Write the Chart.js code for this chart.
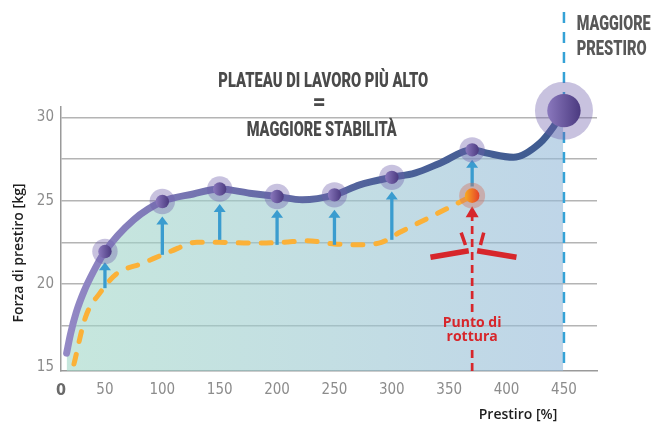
<!DOCTYPE html>
<html>
<head>
<meta charset="utf-8">
<script src="https://cdn.jsdelivr.net/npm/chart.js@4.4.1/dist/chart.umd.min.js"></script>
<style>
body{margin:0;background:#fff;}
#wrap{width:654px;height:427px;}
</style>
</head>
<body>
<div id="wrap"><canvas id="grafico" width="654" height="427"></canvas></div>
<script>
// curva viola: prestiro [%] / forza [kg]
const curvaX = [16.6, 20, 25, 32, 40, 50, 75, 100, 127, 150, 176, 200, 222, 250, 272, 300, 320, 342, 370, 383, 406, 429, 441, 449.4];
const curvaY = [15.85, 17.0, 18.3, 19.6, 20.75, 21.95, 23.85, 24.95, 25.4, 25.7, 25.45, 25.25, 25.05, 25.35, 25.95, 26.4, 26.65, 27.25, 28.05, 27.85, 27.6, 28.45, 29.45, 30.4];

// curva arancione tratteggiata (fino al punto di rottura)
const rotturaX = [23, 33, 46, 60, 83, 107, 130, 150, 180, 205, 226, 250, 274, 291, 307, 333, 356, 370];
const rotturaY = [15.2, 18.0, 19.5, 20.6, 21.25, 21.95, 22.5, 22.5, 22.45, 22.5, 22.6, 22.4, 22.35, 22.5, 23.1, 24.0, 24.8, 25.3];

// punti evidenziati sulla curva viola
const puntiX = [50, 100, 150, 200, 250, 300, 370, 450];
const puntiY = [21.95, 24.95, 25.7, 25.25, 25.35, 26.4, 28.05, 30.4];

// frecce blu (da -> a)
const frecceX = [50, 100, 150, 200, 250, 300, 370];
const frecceDa = [19.75, 21.75, 22.65, 22.35, 22.35, 22.65, 25.85];
const frecceA = [21.3, 24.05, 24.8, 24.45, 24.45, 25.55, 27.45];

const puntoRottura = [370, 25.3];
const maxPrestiro = 450;

const xTicks = [0, 50, 100, 150, 200, 250, 300, 350, 400, 450];
const yTicks = [15, 17.5, 20, 22.5, 25, 27.5, 30];

// limiti degli assi
const X_MIN = 11.7, X_MAX = 478.8, Y_MIN = 14.78, Y_MAX = 30.62;

const fontTick = "'Liberation Sans Narrow', 'DejaVu Sans Condensed', Roboto";

function testoStretto(ctx, testo, cx, cy, larghezza, font, colore) {
    ctx.save();
    ctx.font = font;
    ctx.fillStyle = colore;
    ctx.textAlign = 'center';
    ctx.textBaseline = 'middle';
    let w = ctx.measureText(testo).width;
    ctx.translate(cx, cy);
    ctx.scale(larghezza / w, 1);
    ctx.fillText(testo, 0, 0);
    ctx.restore();
}

function freccia(ctx, x, yDa, yA, colore, spessore, largTesta, altTesta) {
    ctx.strokeStyle = colore;
    ctx.fillStyle = colore;
    ctx.lineWidth = spessore;
    ctx.beginPath();
    ctx.moveTo(x, yDa);
    ctx.lineTo(x, yA + altTesta - 1);
    ctx.stroke();
    ctx.beginPath();
    ctx.moveTo(x, yA);
    ctx.lineTo(x - largTesta / 2, yA + altTesta);
    ctx.lineTo(x + largTesta / 2, yA + altTesta);
    ctx.closePath();
    ctx.fill();
}

function pallino(ctx, cx, cy, r, alone, c1, c2, coloreAlone) {
    ctx.fillStyle = coloreAlone;
    ctx.beginPath();
    ctx.arc(cx, cy, alone, 0, Math.PI * 2);
    ctx.fill();
    let g = ctx.createLinearGradient(cx - r, cy, cx + r, cy);
    g.addColorStop(0, c1);
    g.addColorStop(1, c2);
    ctx.fillStyle = g;
    ctx.beginPath();
    ctx.arc(cx, cy, r, 0, Math.PI * 2);
    ctx.fill();
}

const annotazioni = {
    id: 'annotazioni',
    afterDatasetsDraw(chart) {
        const {ctx, chartArea} = chart;
        const x = chart.scales.x, y = chart.scales.y;
        ctx.save();

        // linea blu verticale tratteggiata (maggiore prestiro)
        let xMax = x.getPixelForValue(maxPrestiro);
        ctx.strokeStyle = '#35a2d6';
        ctx.lineWidth = 2.5;
        ctx.setLineDash([11, 9]);
        ctx.beginPath();
        ctx.moveTo(xMax, 12);
        ctx.lineTo(xMax, chartArea.bottom);
        ctx.stroke();

        // linea rossa tratteggiata (punto di rottura)
        let xr = x.getPixelForValue(puntoRottura[0]);
        let yr = y.getPixelForValue(puntoRottura[1]);
        ctx.strokeStyle = '#d7262b';
        ctx.lineWidth = 2.7;
        ctx.setLineDash([8, 5]);
        ctx.beginPath();
        ctx.moveTo(xr, chartArea.bottom);
        ctx.lineTo(xr, chartArea.bottom - 24);
        ctx.moveTo(xr, chartArea.bottom - 59);
        ctx.lineTo(xr, yr + 21);
        ctx.stroke();
        ctx.setLineDash([]);
        freccia(ctx, xr, yr + 21, yr + 10.5, '#d7262b', 2.7, 13, 11);

        // segni di rottura
        ctx.lineCap = 'butt';
        ctx.lineWidth = 5.5;
        ctx.beginPath();
        ctx.moveTo(xr - 41.7, yr + 61.6); ctx.lineTo(xr - 3.4, yr + 55);
        ctx.moveTo(xr + 5, yr + 55); ctx.lineTo(xr + 44.3, yr + 61.6);
        ctx.stroke();
        ctx.lineWidth = 3.5;
        ctx.beginPath();
        ctx.moveTo(xr - 11, yr + 37); ctx.lineTo(xr - 6.7, yr + 49.3);
        ctx.moveTo(xr + 11.6, yr + 37); ctx.lineTo(xr + 8.3, yr + 49.3);
        ctx.stroke();

        // frecce blu
        for (let i = 0; i < frecceX.length; i++) {
            let fx = x.getPixelForValue(frecceX[i]);
            freccia(ctx, fx, y.getPixelForValue(frecceDa[i]), y.getPixelForValue(frecceA[i]), '#3a9ccf', 3.3, 12, 8);
        }

        // punto di rottura arancione
        pallino(ctx, xr, yr, 7.3, 13, '#f8aa22', '#e5402a', 'rgba(210,110,90,0.4)');

        // punti viola
        for (let i = 0; i < puntiX.length; i++) {
            let px = x.getPixelForValue(puntiX[i]);
            let py = y.getPixelForValue(puntiY[i]);
            let grande = puntiX[i] === maxPrestiro;
            pallino(ctx, px, py, grande ? 16.7 : 6.7, grande ? 29 : 12.7, '#8a78bd', '#4b3a80', 'rgba(110,95,170,0.38)');
        }

        // testi
        const bold = (s) => "900 " + s + "px Roboto";
        testoStretto(ctx, 'PLATEAU DI LAVORO PIÙ ALTO', 323.3, 82, 210, bold(21), '#4a4a4a');
        testoStretto(ctx, '=', 319.3, 103.5, 13, bold(22), '#4a4a4a');
        testoStretto(ctx, 'MAGGIORE STABILITÀ', 321.7, 131, 150, bold(21), '#4a4a4a');
        testoStretto(ctx, 'MAGGIORE', xMax + 49.7, 25, 74, bold(20), '#585858');
        testoStretto(ctx, 'PRESTIRO', xMax + 47.7, 50, 70, bold(20), '#585858');

        ctx.fillStyle = '#d7262b';
        ctx.font = "700 14px 'Open Sans'";
        ctx.textAlign = 'center';
        ctx.textBaseline = 'middle';
        ctx.fillText('Punto di', xr, chartArea.bottom - 48.3);
        ctx.fillText('rottura', xr, chartArea.bottom - 34.3);

        ctx.fillStyle = '#1e1e1e';
        ctx.font = "600 14px 'Open Sans'";
        ctx.fillText('Prestiro [%]', 518, 415);
        ctx.translate(19.3, 253);
        ctx.rotate(-Math.PI / 2);
        ctx.fillText('Forza di prestiro [kg]', 0, 0);

        ctx.restore();
    }
};

const grafico = new Chart(document.getElementById('grafico'), {
    type: 'line',
    data: {
        datasets: [{
            label: 'Forza di prestiro',
            data: curvaX.map((v, i) => ({x: v, y: curvaY[i]})),
            borderWidth: 7,
            borderCapStyle: 'round',
            cubicInterpolationMode: 'monotone',
            pointRadius: 0,
            fill: 'start',
            borderColor: (c) => {
                const a = c.chart.chartArea;
                if (!a) return '#6e6fac';
                const g = c.chart.ctx.createLinearGradient(a.left, 0, a.right, 0);
                g.addColorStop(0, '#9489c6');
                g.addColorStop(0.3, '#6e6fac');
                g.addColorStop(0.6, '#4d6199');
                g.addColorStop(1, '#3b5a8e');
                return g;
            },
            backgroundColor: (c) => {
                const a = c.chart.chartArea;
                if (!a) return 'rgba(160,215,198,0.6)';
                const g = c.chart.ctx.createLinearGradient(a.left, 0, a.right, 0);
                g.addColorStop(0, 'rgba(160,215,198,0.6)');
                g.addColorStop(0.5, 'rgba(155,200,208,0.6)');
                g.addColorStop(1, 'rgba(147,183,218,0.6)');
                return g;
            },
            order: 2
        }, {
            label: 'Rottura',
            data: rotturaX.map((v, i) => ({x: v, y: rotturaY[i]})),
            borderColor: '#fbb138',
            borderWidth: 5,
            borderDash: [10, 13],
            borderCapStyle: 'round',
            cubicInterpolationMode: 'monotone',
            pointRadius: 0,
            fill: false,
            order: 1
        }]
    },
    options: {
        responsive: false,
        animation: false,
        layout: {padding: {top: 107, right: 57, left: 0, bottom: 0}},
        plugins: {legend: {display: false}, tooltip: {enabled: false}},
        scales: {
            x: {
                type: 'linear',
                min: X_MIN,
                max: X_MAX,
                afterBuildTicks: (s) => { s.ticks = xTicks.map(v => ({value: Math.max(v, X_MIN)})); },
                afterFit: (s) => { s.height = 56; },
                grid: {display: false, drawTicks: false},
                border: {display: true, color: '#9a9a9a', width: 1.5},
                ticks: {
                    padding: 10,
                    autoSkip: false,
                    maxRotation: 0,
                    color: (c) => c.index === 0 ? '#6a6a6a' : '#8c8c8c',
                    font: (c) => c.index === 0 ? {family: fontTick, size: 16, weight: 'bold'} : {family: fontTick, size: 15, weight: '300'},
                    callback: (v, i) => String(xTicks[i])
                }
            },
            y: {
                min: Y_MIN,
                max: Y_MAX,
                afterBuildTicks: (s) => { s.ticks = yTicks.map(v => ({value: v})); },
                afterFit: (s) => { s.width = 61; },
                grid: {
                    drawTicks: false,
                    lineWidth: 1.5,
                    color: (c) => c.tick && c.tick.value === 15 ? 'rgba(0,0,0,0)' : '#b4b4b4'
                },
                border: {display: true, color: '#9a9a9a', width: 1.5},
                ticks: {
                    padding: 7,
                    color: '#8c8c8c',
                    font: {family: fontTick, size: 15, weight: '300'},
                    callback: (v) => v % 5 === 0 ? String(v) : ''
                }
            }
        }
    },
    plugins: [annotazioni]
});
</script>
</body>
</html>
